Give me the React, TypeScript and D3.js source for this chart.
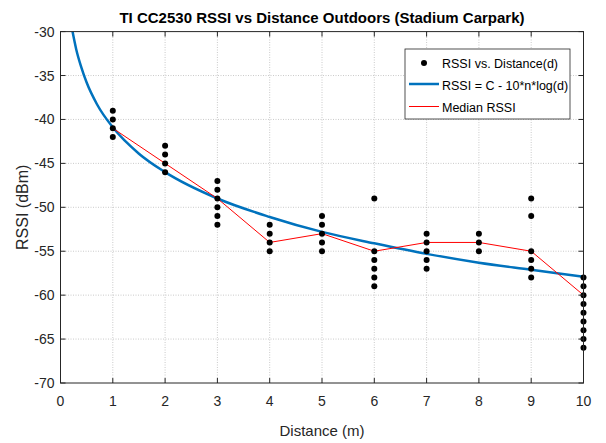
import React, { useRef, useEffect } from 'react';
import * as d3 from 'd3';

// measured samples per distance
const distances = [1, 2, 3, 4, 5, 6, 7, 8, 9, 10];
const rssiSamples: number[][] = [
  [-39, -40, -41, -42],
  [-43, -44, -45, -46],
  [-47, -48, -49, -50, -51, -52],
  [-52, -53, -54, -55],
  [-51, -52, -53, -54, -55],
  [-49, -55, -56, -57, -58, -59],
  [-53, -54, -55, -56, -57],
  [-53, -54, -55],
  [-49, -51, -55, -56, -57, -58],
  [-58, -59, -60, -61, -62, -63, -64, -65, -66],
];
const medianRssi = [-41, -45, -49, -54, -53, -55, -54, -54, -55, -60];

// fitted log-distance curve
const fitDist = [0.23, 0.3, 0.4, 0.5, 0.7, 1, 1.5, 2, 3, 4, 5, 6, 7, 8, 9, 10];
const fitRssi = [-30, -32.0, -34.1, -35.8, -38.3, -40.9, -43.9, -46.0, -49.0, -51.1, -52.8, -54.1, -55.3, -56.3, -57.1, -57.9];

const xTicks = [0, 1, 2, 3, 4, 5, 6, 7, 8, 9, 10];
const yTicks = [-70, -65, -60, -55, -50, -45, -40, -35, -30];
const legendLabels = ['RSSI vs. Distance(d)', 'RSSI = C - 10*n*log(d)', 'Median RSSI'];

const App: React.FC = () => {
  const ref = useRef<SVGSVGElement | null>(null);

  useEffect(() => {
    if (!ref.current) return;
    const width = 606;
    const height = 443;
    const margin = { top: 31.6, right: 22.5, bottom: 60, left: 60.5 };
    const font = "'Liberation Sans', Arial, sans-serif";

    const svg = d3.select(ref.current);
    svg.selectAll('*').remove();
    svg.attr('width', width).attr('height', height);

    svg.append('rect').attr('width', width).attr('height', height).attr('fill', '#fff');

    const x = d3.scaleLinear().domain([0, 10]).range([margin.left, width - margin.right]);
    const y = d3.scaleLinear().domain([-70, -30]).range([height - margin.bottom, margin.top]);
    const [x0, x1] = x.range();
    const [y0, y1] = y.range();

    // grid
    const grid = svg.append('g').attr('stroke', '#bdbdbd').attr('stroke-width', 0.8).attr('stroke-dasharray', '1,1.5');
    xTicks.slice(1, -1).forEach(t => {
      grid.append('line').attr('x1', x(t)).attr('x2', x(t)).attr('y1', y0).attr('y2', y1);
    });
    yTicks.slice(1, -1).forEach(t => {
      grid.append('line').attr('y1', y(t)).attr('y2', y(t)).attr('x1', x0).attr('x2', x1);
    });

    svg.append('clipPath').attr('id', 'plotclip')
      .append('rect').attr('x', x0).attr('y', y1).attr('width', x1 - x0).attr('height', y0 - y1);

    const plot = svg.append('g').attr('clip-path', 'url(#plotclip)');

    const fitData = fitDist.map((d, i) => [d, fitRssi[i]] as [number, number]);
    const fitLine = d3.line<[number, number]>()
      .x(d => x(d[0]))
      .y(d => y(d[1]))
      .curve(d3.curveMonotoneX);
    plot.append('path')
      .datum(fitData)
      .attr('fill', 'none')
      .attr('stroke', '#0072BD')
      .attr('stroke-width', 2.5)
      .attr('d', fitLine);

    const medData = distances.map((d, i) => [d, medianRssi[i]] as [number, number]);
    plot.append('path')
      .datum(medData)
      .attr('fill', 'none')
      .attr('stroke', '#ff0000')
      .attr('stroke-width', 1)
      .attr('d', d3.line<[number, number]>().x(d => x(d[0])).y(d => y(d[1])));

    const pts: [number, number][] = [];
    distances.forEach((d, i) => rssiSamples[i].forEach(v => pts.push([d, v])));
    svg.append('g').selectAll('circle')
      .data(pts)
      .enter()
      .append('circle')
      .attr('cx', d => x(d[0]))
      .attr('cy', d => y(d[1]))
      .attr('r', 3)
      .attr('fill', '#000');

    // axes box
    svg.append('rect')
      .attr('x', x0).attr('y', y1).attr('width', x1 - x0).attr('height', y0 - y1)
      .attr('fill', 'none').attr('stroke', '#262626').attr('stroke-width', 1);

    const tickLen = 5;
    const ticks = svg.append('g').attr('stroke', '#262626').attr('stroke-width', 1);
    xTicks.forEach(t => {
      ticks.append('line').attr('x1', x(t)).attr('x2', x(t)).attr('y1', y0).attr('y2', y0 - tickLen);
      ticks.append('line').attr('x1', x(t)).attr('x2', x(t)).attr('y1', y1).attr('y2', y1 + tickLen);
    });
    yTicks.forEach(t => {
      ticks.append('line').attr('y1', y(t)).attr('y2', y(t)).attr('x1', x0).attr('x2', x0 + tickLen);
      ticks.append('line').attr('y1', y(t)).attr('y2', y(t)).attr('x1', x1).attr('x2', x1 - tickLen);
    });

    svg.append('g').selectAll('text')
      .data(xTicks)
      .enter()
      .append('text')
      .attr('x', d => x(d))
      .attr('y', y0 + 23)
      .attr('text-anchor', 'middle')
      .attr('font-family', font)
      .attr('font-size', 14)
      .attr('fill', '#262626')
      .text(d => String(d));

    svg.append('g').selectAll('text')
      .data(yTicks)
      .enter()
      .append('text')
      .attr('x', x0 - 6)
      .attr('y', d => y(d) + 5)
      .attr('text-anchor', 'end')
      .attr('font-family', font)
      .attr('font-size', 14)
      .attr('fill', '#262626')
      .text(d => String(d));

    svg.append('text')
      .attr('x', (x0 + x1) / 2)
      .attr('y', 436)
      .attr('text-anchor', 'middle')
      .attr('font-family', font)
      .attr('font-size', 15)
      .attr('fill', '#262626')
      .text('Distance (m)');

    svg.append('text')
      .attr('transform', `translate(28,${(y0 + y1) / 2}) rotate(-90)`)
      .attr('text-anchor', 'middle')
      .attr('font-family', font)
      .attr('font-size', 16)
      .attr('fill', '#262626')
      .text('RSSI (dBm)');

    svg.append('text')
      .attr('x', (x0 + x1) / 2)
      .attr('y', 23)
      .attr('text-anchor', 'middle')
      .attr('font-family', font)
      .attr('font-size', 15)
      .attr('font-weight', 'bold')
      .attr('fill', '#000')
      .text('TI CC2530 RSSI vs Distance Outdoors (Stadium Carpark)');

    // legend
    const lg = svg.append('g').attr('transform', 'translate(405,49)');
    lg.append('rect').attr('width', 165).attr('height', 70).attr('fill', '#fff').attr('stroke', '#262626').attr('stroke-width', 0.8);
    lg.append('circle').attr('cx', 19).attr('cy', 14).attr('r', 3).attr('fill', '#000');
    lg.append('line').attr('x1', 4).attr('x2', 34).attr('y1', 35).attr('y2', 35).attr('stroke', '#0072BD').attr('stroke-width', 2.5);
    lg.append('line').attr('x1', 4).attr('x2', 34).attr('y1', 57.5).attr('y2', 57.5).attr('stroke', '#ff0000').attr('stroke-width', 1);
    legendLabels.forEach((l, i) => {
      lg.append('text')
        .attr('x', 37)
        .attr('y', 14 + i * 22 + 4.5)
        .attr('font-family', font)
        .attr('font-size', 12.5)
        .attr('fill', '#000')
        .text(l);
    });
  }, []);

  return <svg ref={ref} style={{ position: 'absolute', left: 0, top: 0 }}></svg>;
};

export default App;
